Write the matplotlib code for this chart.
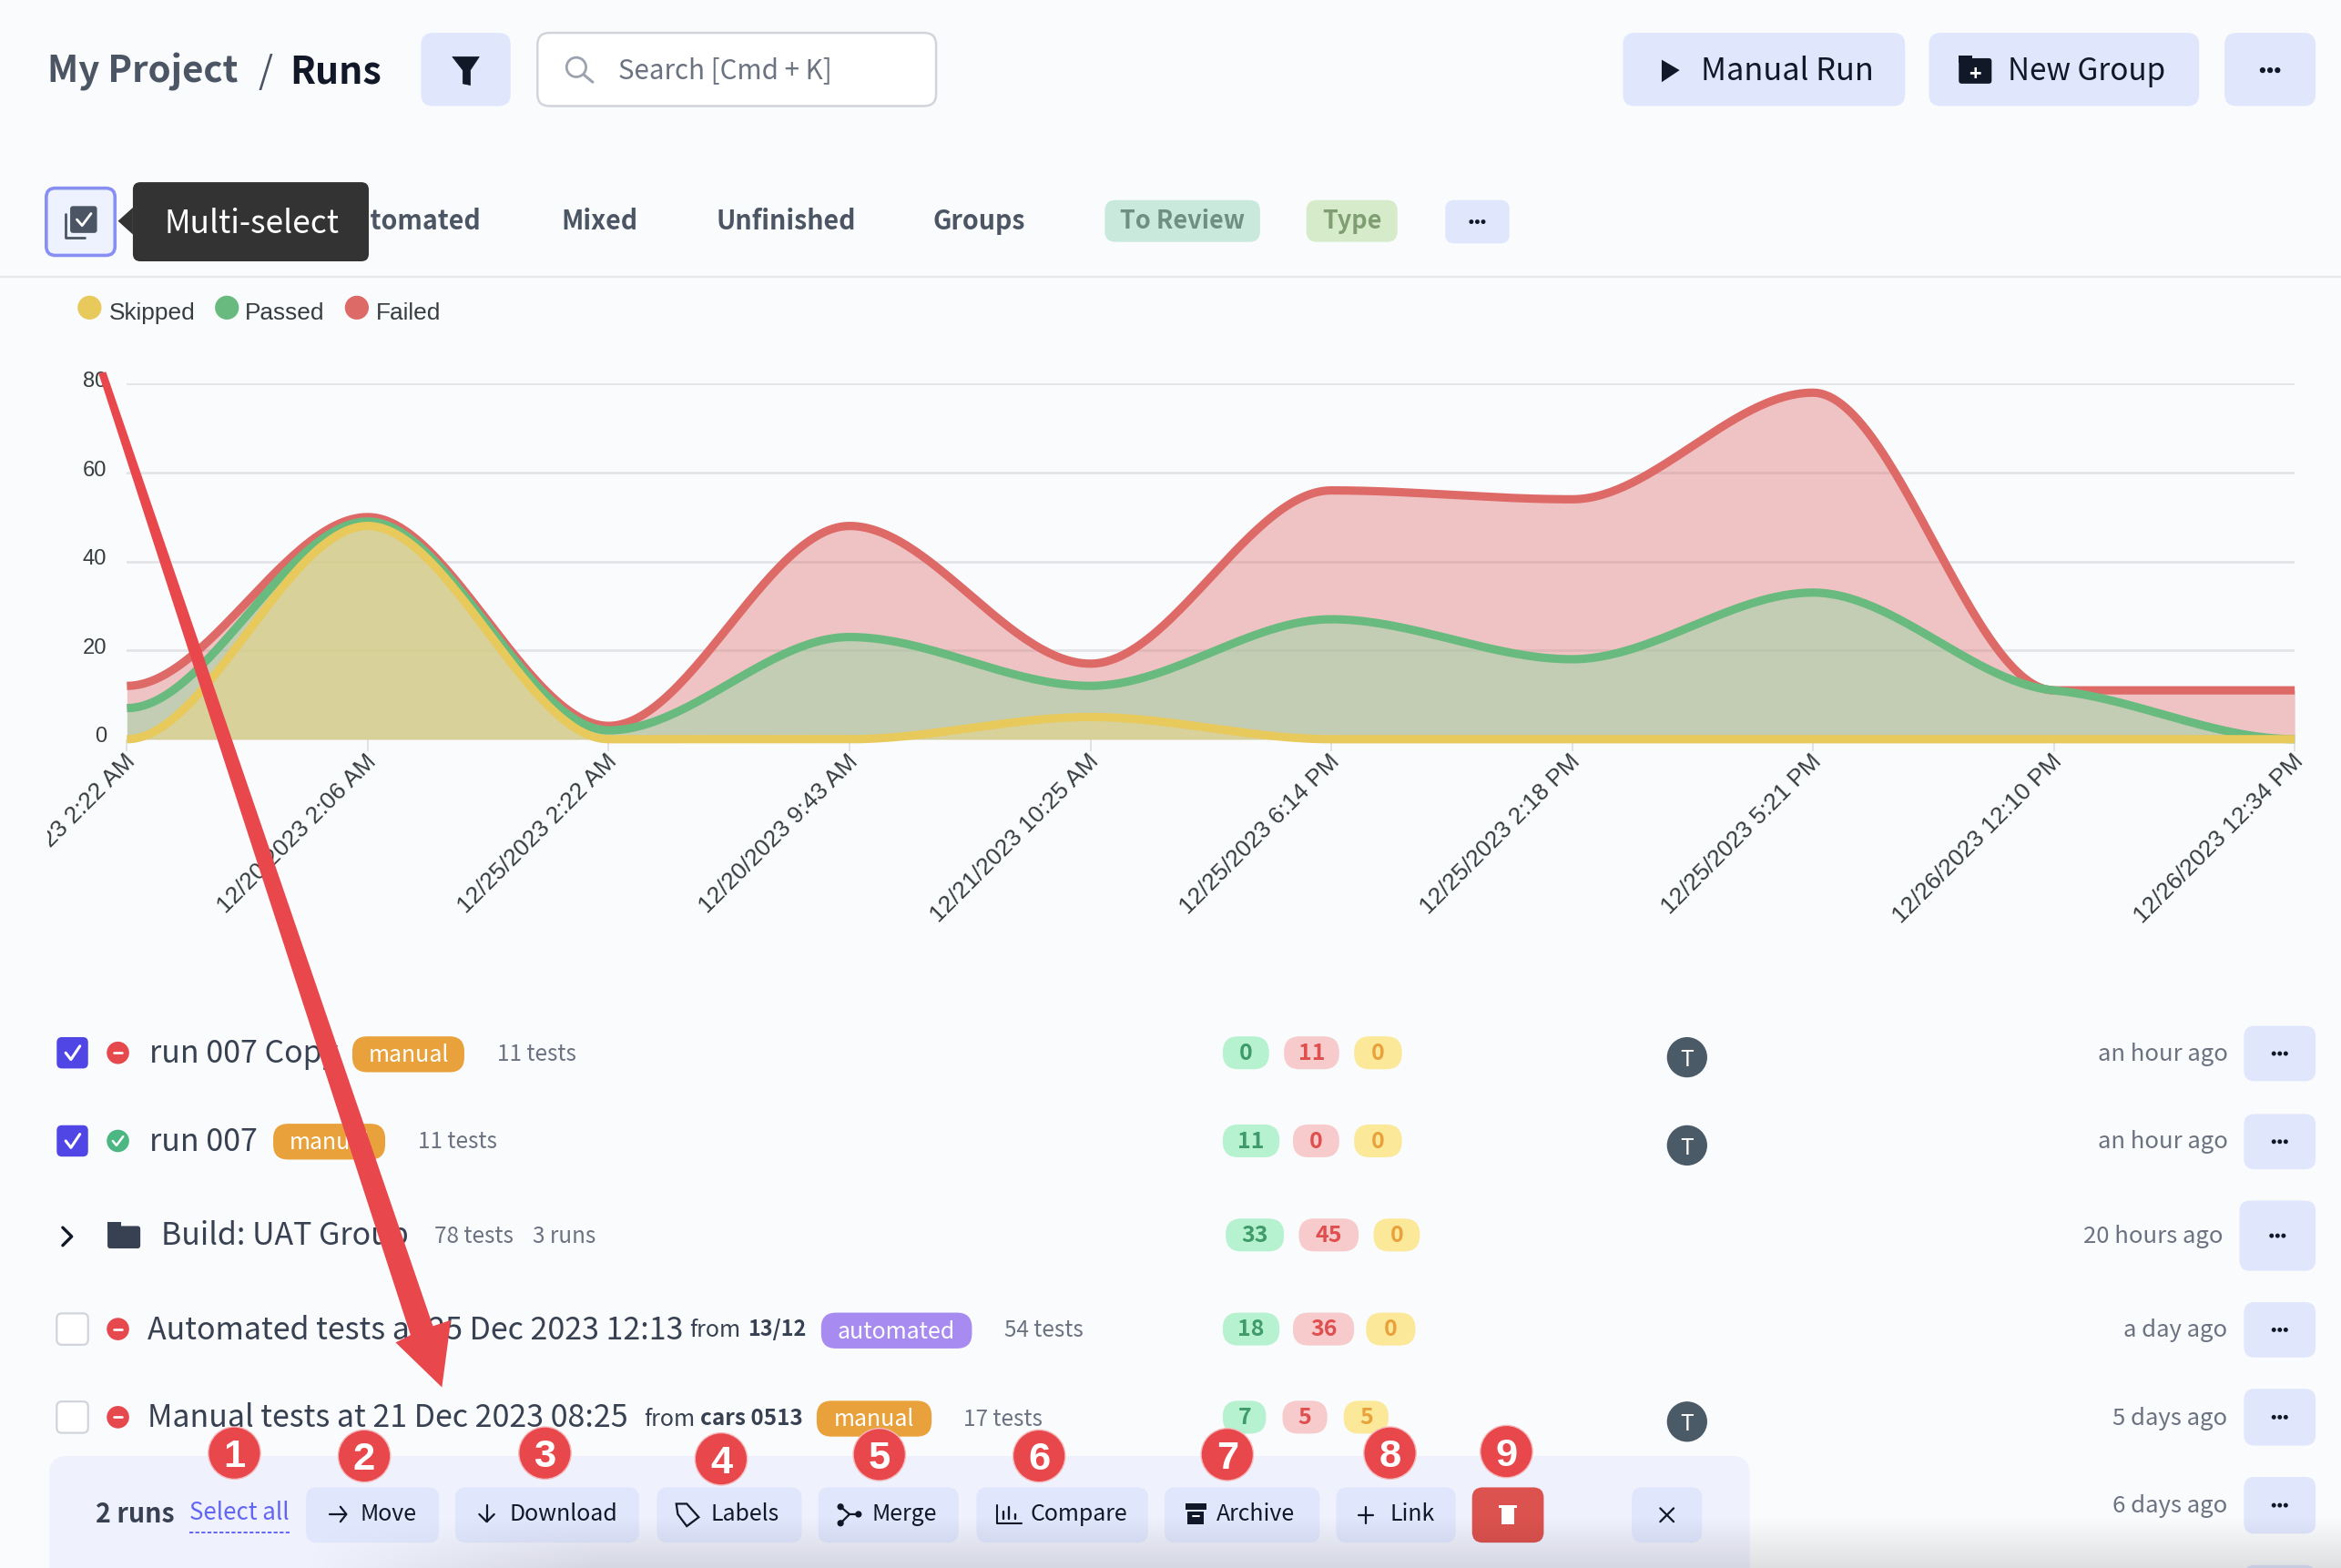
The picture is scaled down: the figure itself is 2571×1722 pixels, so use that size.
import numpy as np
import matplotlib
matplotlib.use('Agg')
import matplotlib.pyplot as plt
from matplotlib.patches import FancyBboxPatch, Circle, Polygon, Rectangle
from matplotlib.transforms import ScaledTranslation

# Chart data
run_labels = ['12/25/2023 2:22 AM', '12/20/2023 2:06 AM', '12/25/2023 2:22 AM', '12/20/2023 9:43 AM',
              '12/21/2023 10:25 AM', '12/25/2023 6:14 PM', '12/25/2023 2:18 PM', '12/25/2023 5:21 PM',
              '12/26/2023 12:10 PM', '12/26/2023 12:34 PM']
failed = [12, 50, 3, 48, 17, 56, 54, 78, 11, 11]
passed = [7, 49, 2, 23, 12, 27, 18, 33, 11, 0]
skipped = [0, 48, 0, 0, 5, 0, 0, 0, 0, 0]
y_ticks = [0, 20, 40, 60, 80]

# Rows of the run list
row_times = ['an hour ago', 'an hour ago', '20 hours ago', 'a day ago', '5 days ago', '6 days ago']
row_badges = [(0, 11, 0), (11, 0, 0), (33, 45, 0), (18, 36, 0), (7, 5, 5)]

RED, GREEN, YELLOW = '#DE6A68', '#69BA7E', '#E8C95C'
BG = '#FAFBFD'
BTN = '#E0E6FC'
INK = '#111827'
GRAY = '#4B5563'
MUTED = '#6B7280'
MARK = '#E8474C'
W, H = 1568, 1050   # layout units, scaled up to the 2571 wide figure
PT = 2571 / W * 0.72

UI_FONT = 'Noto Sans CJK SC'
CHART_FONT = 'Liberation Sans'


def smooth(vals, n=60):
    # monotone cubic through the values, flat at the ends and at extrema
    v = np.array(vals, float)
    d = np.diff(v)
    m = np.zeros(len(v))
    for i in range(1, len(v) - 1):
        if d[i - 1] * d[i] > 0:
            m[i] = 0.35 * 2 * d[i - 1] * d[i] / (d[i - 1] + d[i])
    xs, ys = [], []
    for i in range(len(d)):
        t = np.linspace(0, 1, n)
        h00 = 2 * t**3 - 3 * t**2 + 1
        h10 = t**3 - 2 * t**2 + t
        h01 = -2 * t**3 + 3 * t**2
        h11 = t**3 - t**2
        xs.append(i + t)
        ys.append(h00 * v[i] + h10 * m[i] + h01 * v[i + 1] + h11 * m[i + 1])
    return np.concatenate(xs), np.concatenate(ys)


fig = plt.figure(figsize=(25.71, 17.22), dpi=100, facecolor=BG)

# Chart
ax = fig.add_axes([85 / W, 1 - 495 / H, (1537 - 85) / W, (495 - 257) / H], facecolor='none', zorder=1)
for vals, col, a in [(failed, RED, 0.38), (passed, '#96D7A6', 0.5), (skipped, '#EBD683', 0.55)]:
    xs, ys = smooth(vals)
    ax.fill_between(xs, 0, ys, color=col, alpha=a, lw=0, clip_on=False)
for vals, col in [(failed, RED), (passed, GREEN), (skipped, YELLOW)]:
    xs, ys = smooth(vals)
    ax.plot(xs, ys, color=col, lw=6.6, solid_capstyle='butt', clip_on=False, zorder=3)
ax.set_xlim(0, len(failed) - 1)
ax.set_ylim(0, 80)
ax.set_yticks(y_ticks)
ax.set_xticks(range(len(run_labels)))
ax.set_xticklabels(run_labels, rotation=45, ha='right', va='top', rotation_mode='anchor',
                   fontsize=16 * PT, family=CHART_FONT, color='#373D3F')
ax.tick_params(axis='x', length=9, width=1.2, color='#DCDDE0', pad=0)
ax.tick_params(axis='y', length=0, pad=16, labelsize=14.5 * PT, labelcolor='#373D3F')
up3 = ScaledTranslation(0, 3 * 1.64 / 100, fig.dpi_scale_trans)
left2 = ScaledTranslation(-2 * 1.64 / 100, 0, fig.dpi_scale_trans)
for lab in ax.get_yticklabels():
    lab.set_family(CHART_FONT)
    lab.set_transform(lab.get_transform() + up3)
ax.grid(axis='y', color='#E2E3E7', lw=1.9)
ax.set_axisbelow(True)
for s in ax.spines.values():
    s.set_visible(False)
# the first date runs off the left edge of the page panel
clip = Rectangle((32 / W, 0), 1, 1, transform=fig.transFigure)
for lab in ax.get_xticklabels():
    lab.set_transform(lab.get_transform() + left2)
    lab.set_clip_on(True)
    lab.set_clip_path(clip)

# Page layer drawn on top of the chart
ui = fig.add_axes([0, 0, 1, 1], facecolor='none', zorder=2)
ui.set_xlim(0, W)
ui.set_ylim(H, 0)
ui.axis('off')


def box(x0, y0, x1, y1, fc=BTN, ec='none', r=8, lw=0, z=2):
    ui.add_patch(FancyBboxPatch((x0, y0), x1 - x0, y1 - y0, boxstyle=f'round,pad=0,rounding_size={r}',
                                fc=fc, ec=ec, lw=lw, zorder=z))


def txt(x, y, s, px=16, color=GRAY, weight='normal', ha='left', z=4, family=UI_FONT):
    return ui.text(x, y - 1, s, fontsize=px * PT, color=color, fontweight=weight, ha=ha, va='center_baseline',
                   family=family, zorder=z)


def dots(cx, cy, color=INK, z=4, gap=5.0, r=1.9):
    for dx in (-gap, 0, gap):
        ui.add_patch(Circle((cx + dx, cy), r, fc=color, ec='none', zorder=z))


def line(xs, ys, color=INK, lw=2.2, z=4):
    ui.plot(xs, ys, color=color, lw=lw, solid_capstyle='round', zorder=z)


# Header
txt(32, 46.5, 'My Project', 24.5, GRAY, 'bold')
txt(173, 46.5, '/', 25, GRAY)
txt(194, 46.5, 'Runs', 25, INK, 'bold')
box(282, 22, 342, 71)
ui.add_patch(Polygon([(303, 38), (321, 38), (315, 47), (315, 57), (310, 56), (310, 47)], fc=INK, ec=INK, lw=0.5, zorder=4))
box(360, 22, 627, 71, fc='white', ec='#D1D5DB', lw=1.8)
ui.add_patch(Circle((386, 45), 6.5, fc='none', ec='#9CA3AF', lw=2, zorder=4))
line([391, 397], [50, 55], '#9CA3AF')
txt(414, 46.5, 'Search [Cmd + K]', 18, MUTED)
box(1087, 22, 1276, 71)
ui.add_patch(Polygon([(1113, 40), (1125, 47), (1113, 55)], fc=INK, ec='none', zorder=4))
txt(1139, 46.5, 'Manual Run', 21, INK)
box(1292, 22, 1473, 71)
box(1312, 39, 1334, 56, fc=INK, r=2, z=3)
ui.add_patch(Rectangle((1312, 37), 9, 5, fc=INK, zorder=3))
txt(1323, 49, '+', 14, 'white', 'bold', ha='center')
txt(1345, 46.5, 'New Group', 20.3, INK)
box(1490, 22, 1551, 71)
dots(1520.5, 47)

# Tabs
for x, s in [(322, 'Automated'), (427, 'Mixed'), (573, 'Unfinished'), (687, 'Groups')]:
    txt(x, 147.5, s, 17.4, GRAY, 'bold', ha='right')
box(740, 134, 844, 162, fc='#C9E9DC', r=7)
txt(792, 147.5, 'To Review', 16.5, '#6F8F84', 'bold', ha='center')
box(875, 134, 936, 162, fc='#D6EBC9', r=7)
txt(905.5, 147.5, 'Type', 16.5, '#7F9E72', 'bold', ha='center')
box(968, 134, 1011, 163, r=6)
dots(989.5, 148.5, gap=4, r=1.5)
box(31, 126, 77, 171, fc='#EEF1FE', ec='#8790F2', lw=2.6, r=6)
box(47, 138, 65, 156, fc=GRAY, r=2, z=4)
line([44, 44, 57], [143, 159, 159], GRAY, 2.0)
line([51.5, 55, 61], [147, 151, 143], 'white', 2.0, z=5)
box(89, 122, 247, 175, fc='#333333', r=5, z=5)
ui.add_patch(Polygon([(89, 139), (79, 148), (89, 157)], fc='#333333', ec='none', zorder=5))
txt(110, 148.5, 'Multi-select', 21.5, 'white', z=6)
ui.plot([0, W], [185.5, 185.5], color='#E5E7EB', lw=1.5, zorder=2)

# Legend
for cx, tx, s, col in [(60, 73, 'Skipped', YELLOW), (152, 164, 'Passed', GREEN), (239, 252, 'Failed', RED)]:
    ui.add_patch(Circle((cx, 206), 8, fc=col, ec='none', zorder=3))
    txt(tx, 209, s, 16, '#373D3F', family=CHART_FONT)

# Run list
title_px = 20.7
rows_y = [705, 764, 827, 890, 949]
titles = [(100, 'run 007 Copy'), (100, 'run 007'), (108, 'Build: UAT Group'),
          (99, 'Automated tests at 25 Dec 2023 12:13'), (99, 'Manual tests at 21 Dec 2023 08:25')]
for y, (x, s) in zip(rows_y, titles):
    txt(x, y - 0.5, s, title_px, '#374151')

checked = [True, True, None, False, False]
for y, c in zip(rows_y, checked):
    if c is None:
        continue
    if c:
        box(38, y - 10.5, 59, y + 10.5, fc='#4F46E5', r=3.5, z=3)
        line([44, 47.5, 53.5], [y, y + 4.5, y - 4.5], 'white', 2.2)
    else:
        box(38, y - 10.5, 59, y + 10.5, fc='white', ec='#D1D5DB', lw=1.6, r=3.5, z=3)

for y, ok in zip([705, 764, 890, 949], [False, True, False, False]):
    ui.add_patch(Circle((79, y), 7.5, fc='#4CB782' if ok else '#E5484D', ec='none', zorder=3))
    if ok:
        line([75.5, 78, 82.5], [y, y + 3, y - 3], 'white', 1.8)
    else:
        line([76, 82], [y, y], 'white', 1.9)

# folder row
line([42, 48, 42], [822, 828, 834], INK, 2.4)
box(72, 821, 94, 836, fc='#374151', r=2, z=3)
ui.add_patch(Rectangle((72, 818), 9, 5, fc='#374151', zorder=3))

for x0, x1, y, s, col in [(236, 311, 706, 'manual', '#E9A23B'), (183, 258, 764.5, 'manual', '#E9A23B'),
                          (550, 651, 891, 'automated', '#A78BF0'), (547, 624, 950, 'manual', '#E9A23B')]:
    box(x0, y - 12, x1, y + 12, fc=col, r=10, z=3)
    txt((x0 + x1) / 2, y, s, 15.2, 'white', ha='center')

for x, y, s in [(333, 705, '11 tests'), (280, 764, '11 tests'), (291, 827.5, '78 tests'), (357, 827.5, '3 runs'),
                (673, 890, '54 tests'), (645, 949.5, '17 tests')]:
    txt(x, y, s, 14.8, MUTED)

txt(462, 890, 'from', 15.3, '#374151')
txt(501, 890, '13/12', 14.3, '#374151', 'bold')
txt(431, 949.5, 'from', 15.3, '#374151')
txt(469, 949.5, 'cars 0513', 14.8, '#374151', 'bold')

# Result badges
badge_x = [[(819, 850), (860, 897), (907, 939)], [(819, 857), (866, 897), (907, 939)],
           [(821, 860), (870, 910), (920, 951)], [(819, 857), (866, 907), (915, 948)],
           [(819, 848), (859, 889), (900, 930)]]
badge_fc = ['#B7F2D0', '#F7CBCB', '#FBE899']
badge_tc = ['#3F9B6A', '#DF4F4F', '#E9A23B']
for y, vals, spans in zip(rows_y, row_badges, badge_x):
    for v, (x0, x1), fc, tc in zip(vals, spans, badge_fc, badge_tc):
        box(x0, y - 11, x1, y + 11, fc=fc, r=10.5, z=3)
        txt((x0 + x1) / 2, y, str(v), 15.2, tc, 'bold', ha='center')

for y in [708, 767, 952]:
    ui.add_patch(Circle((1130, y), 13.5, fc='#4A5A66', ec='none', zorder=3))
    txt(1130, y + 1, 'T', 15, 'white', ha='center')

time_y = [705, 764, 827, 890, 949, 1008]
for i, (y, s) in enumerate(zip(time_y, row_times)):
    txt(1489 if i == 2 else 1492, y, s, 15.7, MUTED, ha='right')
for y0, y1, x0 in [(687, 724, 1503), (746, 783, 1503), (804, 851, 1500), (872, 909, 1503),
                   (930, 968, 1503), (989, 1027, 1503), (1048, 1086, 1503)]:
    box(x0, y0, 1551, y1, r=7)
    dots((x0 + 1551) / 2, (y0 + y1) / 2, gap=4, r=1.5)

# Bulk action bar
box(33, 975, 1172, 1090, fc='#EFF1FD', r=12, z=5)
txt(64, 1013.5, '2 runs', 17.4, '#374151', 'bold', z=6)
txt(127, 1012.5, 'Select all', 15.8, '#6366F1', z=6)
ui.plot([127, 194], [1026, 1026], color='#6366F1', lw=1.4, ls=(0, (2.2, 1.2)), zorder=6)
bar_buttons = [(205, 294, 241, 'Move'), (305, 428, 341, 'Download'), (440, 537, 476, 'Labels'),
               (548, 642, 584, 'Merge'), (654, 769, 690, 'Compare'), (780, 884, 815, 'Archive'),
               (895, 975, 931, 'Link')]
for x0, x1, tx, s in bar_buttons:
    box(x0, 996, x1, 1033, r=7, z=6)
    txt(tx, 1013.5, s, 15.2, INK, z=7)
box(986, 996, 1034, 1033, fc='#DC524E', r=7, z=6)
box(1093, 996, 1140, 1033, r=7, z=6)

# bar icons
line([221, 232], [1014, 1014], z=7, lw=1.6)
line([228, 232, 228], [1009, 1014, 1019], z=7, lw=1.6)
line([326, 326], [1008, 1019], z=7, lw=1.6)
line([321, 326, 331], [1014, 1019, 1014], z=7, lw=1.6)
ui.add_patch(Polygon([(453, 1007), (460, 1007), (468, 1016), (460, 1022), (454, 1014)], fc='none', ec=INK, lw=1.6, zorder=7))
line([563, 569, 576], [1009, 1014, 1014], z=7, lw=1.6)
line([563, 569], [1020, 1014], z=7, lw=1.6)
for cx, cy in [(563, 1009), (563, 1020), (575, 1014)]:
    ui.add_patch(Circle((cx, cy), 2.2, fc=INK, ec='none', zorder=7))
line([668, 668, 684], [1008, 1020, 1020], z=7, lw=1.5)
for dx, top in [(672, 1012), (676, 1009), (680, 1014)]:
    line([dx, dx], [top, 1017], z=7, lw=1.7)
ui.add_patch(Rectangle((794, 1007), 14, 4, fc=INK, zorder=7))
ui.add_patch(Rectangle((795.5, 1012), 11, 9, fc=INK, zorder=7))
line([799, 803], [1015, 1015], 'white', 1.4, z=8)
line([915, 915], [1009, 1020], z=7, lw=1.6)
line([910, 920], [1014.5, 1014.5], z=7, lw=1.6)
ui.add_patch(Rectangle((1005.5, 1010), 9, 11, fc='white', zorder=7))
ui.add_patch(Rectangle((1004, 1008), 12, 1.6, fc='white', zorder=7))
line([1112, 1121], [1010, 1019], z=7, lw=1.6)
line([1112, 1121], [1019, 1010], z=7, lw=1.6)

# soft shadow along the bottom edge
grad_y = np.clip((np.linspace(1015, 1050, 40) - 1015) / 35, 0, 1)
grad_x = np.clip((np.linspace(0, W, 400) - 200) / 200, 0, 1)
alpha = np.outer(grad_y, grad_x) * 0.11
shade = np.zeros(alpha.shape + (4,))
shade[..., 3] = alpha
ui.imshow(shade, extent=(0, W, 1050, 1015), aspect='auto', zorder=8, interpolation='bilinear')
ui.set_xlim(0, W)
ui.set_ylim(H, 0)

# Red annotation arrow
ui.add_patch(Polygon([(66, 250), (71, 249), (290, 888), (302, 884), (296, 929), (265, 899), (275, 894)],
                     fc=MARK, ec='none', zorder=9))

# Numbered markers
marker_xy = [(157, 973), (244, 975), (365, 973), (483, 977), (589, 974), (696, 975), (822, 974), (931, 973), (1009, 972)]
for i, (cx, cy) in enumerate(marker_xy, 1):
    ui.add_patch(Circle((cx, cy), 17.5, fc=MARK, ec='#F3B9BB', lw=1, zorder=10))
    txt(cx, cy + 1, str(i), 26.5, 'white', 'bold', ha='center', z=11, family=CHART_FONT)

fig.savefig('out.png', dpi=100, facecolor=BG)
